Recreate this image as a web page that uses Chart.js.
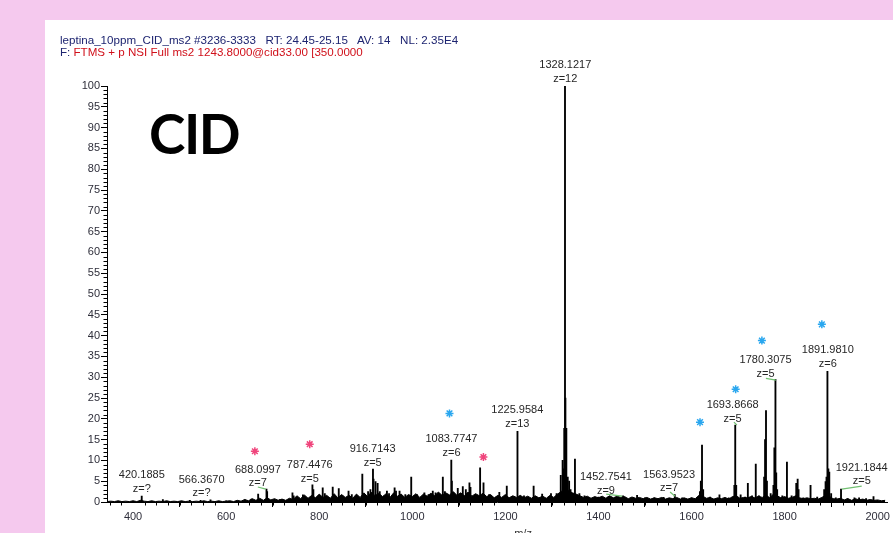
<!DOCTYPE html>
<html>
<head>
<meta charset="utf-8">
<script src="https://cdn.jsdelivr.net/npm/chart.js@4/dist/chart.umd.min.js"></script>
<style>
  html, body { margin: 0; padding: 0; }
  body { width: 893px; height: 533px; overflow: hidden; background: #f5c9ee; position: relative; }
  #panel { position: absolute; left: 45px; top: 20px; width: 848px; height: 513px; background: #fff; }
  #box { position: absolute; left: 45px; top: 20px; width: 848px; height: 513px; }
  .hdr { position: absolute; left: 60px; font: 11.6px "Liberation Sans", Arial, sans-serif; white-space: pre; line-height: 13px; }
  #h1 { top: 33px; color: #1d2470; }
  #h2 { top: 45px; color: #1d2470; }
  #h2 span { color: #d0101a; }
  #cid { position: absolute; left: 149px; top: 106px; font: bold 55px Lato, sans-serif; line-height: 55px; letter-spacing: -1.5px; color: #000; }
</style>
</head>
<body>
<div id="panel"></div>
<div id="box"><canvas id="myChart"></canvas></div>
<div class="hdr" id="h1">leptina_10ppm_CID_ms2 #3236-3333   RT: 24.45-25.15   AV: 14   NL: 2.35E4</div>
<div class="hdr" id="h2">F: <span>FTMS + p NSI Full ms2 1243.8000@cid33.00 [350.0000</span></div>
<div id="cid">CID</div>
<script>
// main sticks (m/z, relative abundance)
var peakMz = [418.6, 464, 522, 545, 566.4, 600, 640, 654.5, 668.8, 686.7, 688.1, 715, 720, 742.5, 745, 765, 770,
  785.4, 787.4, 807.5, 812, 829, 842, 850, 863, 870, 892.6, 905, 910, 915.5, 916.7, 921, 925.5, 930, 945.5, 950,
  962, 965, 972.6, 985, 997.7, 1010, 1026, 1035, 1044, 1050, 1065.6, 1070, 1083.8, 1085, 1097.7, 1108.5, 1115,
  1122.8, 1125, 1145.7, 1153, 1165, 1187, 1203, 1226, 1240, 1260.7, 1279, 1298, 1310, 1319, 1323, 1325, 1326.5,
  1328.1, 1329, 1331, 1334, 1337, 1340, 1349.5, 1359, 1370, 1400, 1420, 1452.8, 1483, 1500, 1520, 1540, 1564,
  1580, 1600, 1618, 1620, 1622.5, 1625, 1640, 1660, 1680, 1692, 1693.9, 1696, 1705.5, 1715, 1721, 1730, 1738,
  1745, 1756, 1758, 1760, 1762, 1770, 1776, 1778, 1780.3, 1782, 1784, 1795, 1805, 1815, 1825, 1828, 1830, 1840,
  1855.7, 1870, 1885, 1888, 1890, 1892, 1894, 1896, 1900, 1910, 1921.2, 1935, 1950, 1960, 1975, 1991];
var peakInt = [1.4, 0.6, 0.4, 0.4, 0.5, 0.3, 0.5, 0.7, 1.9, 3.1, 2.5, 0.6, 0.6, 2.2, 1.5, 1.7, 1.2,
  4.1, 3.0, 3.4, 2.0, 3.6, 3.2, 1.5, 2.6, 1.8, 6.7, 2.5, 3.0, 7.9, 5.5, 4.9, 4.5, 2.5, 2.6, 2.0,
  3.4, 2.6, 2.6, 1.8, 6.0, 1.8, 2.2, 1.8, 2.6, 2.2, 6.0, 2.5, 10.1, 5.0, 3.3, 3.7, 3.0,
  4.6, 3.5, 8.2, 4.6, 1.8, 2.3, 3.8, 17.0, 1.5, 3.8, 1.9, 2.0, 2.0, 6.4, 10.0, 8.0, 17.7,
  100, 25, 17.7, 6.0, 5.0, 3.0, 10.3, 2.0, 1.5, 1.2, 1.2, 1.5, 1.6, 1.0, 1.0, 1.1, 1.8,
  1.0, 1.0, 2.5, 5.0, 13.7, 3.0, 1.2, 1.7, 1.0, 4.0, 18.5, 4.0, 1.7, 1.2, 4.5, 1.5, 9.1,
  1.5, 6.0, 15.0, 22.0, 5.0, 2.0, 4.0, 13.0, 29.5, 7.0, 3.0, 1.5, 9.6, 1.5, 4.5, 5.5, 3.0, 1.0,
  4.0, 1.2, 3.0, 4.9, 6.0, 31.4, 8.0, 7.2, 2.0, 1.0, 3.1, 0.8, 1.0, 1.0, 0.8, 1.3];

// baseline noise
var noiseMz = [344, 352, 360, 368, 376, 384, 392, 400, 408, 416, 424, 432, 440, 448, 456, 464, 472, 480, 488, 496,
  504, 512, 520, 528, 536, 544, 552, 560, 568, 576, 584, 592, 600, 608, 616, 624, 632, 640, 648, 656, 664, 672,
  680, 688, 696, 704, 712, 720, 728, 736, 744, 752, 760, 768, 776, 784, 792, 800, 808, 816, 824, 832, 840, 848,
  856, 864, 872, 880, 888, 896, 904, 912, 920, 928, 936, 944, 952, 960, 968, 976, 984, 992, 1000, 1008, 1016,
  1024, 1032, 1040, 1048, 1056, 1064, 1072, 1080, 1088, 1096, 1104, 1112, 1120, 1128, 1136, 1144, 1152, 1160,
  1168, 1176, 1184, 1192, 1200, 1208, 1216, 1224, 1232, 1240, 1248, 1256, 1264, 1272, 1280, 1288, 1296, 1304,
  1312, 1320, 1328, 1336, 1344, 1352, 1360, 1368, 1376, 1384, 1392, 1400, 1408, 1416, 1424, 1432, 1440, 1448,
  1456, 1464, 1472, 1480, 1488, 1496, 1504, 1512, 1520, 1528, 1536, 1544, 1552, 1560, 1568, 1576, 1584, 1592,
  1600, 1608, 1616, 1624, 1632, 1640, 1648, 1656, 1664, 1672, 1680, 1688, 1696, 1704, 1712, 1720, 1728, 1736,
  1744, 1752, 1760, 1768, 1776, 1784, 1792, 1800, 1808, 1816, 1824, 1832, 1840, 1848, 1856, 1864, 1872, 1880,
  1888, 1896, 1904, 1912, 1920, 1928, 1936, 1944, 1952, 1960, 1968, 1976, 1984, 1992, 2000, 2008, 2016];
var noiseInt = [0.1, 0.2, 0.1, 0.3, 0.1, 0.2, 0.1, 0.3, 0.1, 0.4, 0.2, 0.1, 0.3, 0.1, 0.2, 0.1, 0.3, 0.1, 0.2, 0.1,
  0.3, 0.1, 0.2, 0.1, 0.2, 0.1, 0.3, 0.1, 0.2, 0.1, 0.3, 0.1, 0.2, 0.3, 0.1, 0.4, 0.2, 0.6, 0.3, 0.8, 0.4, 0.9,
  0.4, 1.0, 0.5, 0.8, 0.4, 0.7, 0.4, 0.9, 0.6, 1.5, 0.8, 1.7, 0.9, 1.6, 1.0, 1.9, 1.1, 1.6, 0.9, 2.0, 1.0, 1.8,
  1.1, 1.6, 0.9, 1.9, 1.1, 2.2, 1.3, 2.4, 1.5, 2.1, 1.3, 2.0, 1.1, 2.2, 1.4, 1.9, 1.1, 1.8, 1.3, 2.0, 1.1,
  1.9, 1.4, 2.1, 1.5, 2.4, 1.6, 2.2, 1.7, 2.5, 1.6, 2.2, 1.5, 2.4, 1.4, 2.0, 1.5, 2.1, 1.3,
  1.8, 1.0, 1.6, 1.1, 1.8, 1.0, 1.5, 1.1, 1.6, 1.0, 1.4, 0.9, 1.5, 1.0, 1.4, 0.9, 1.6, 1.1,
  1.9, 2.5, 3.4, 2.7, 2.2, 1.9, 1.5, 1.1, 1.4, 0.9, 1.3, 1.0, 1.4, 0.9, 1.5, 1.0, 1.4, 1.1,
  1.3, 0.8, 1.2, 0.9, 1.1, 0.8, 1.1, 0.7, 1.0, 0.8, 1.1, 0.7, 1.0, 0.8, 1.1, 0.7, 1.0, 0.7,
  1.0, 0.8, 1.6, 1.4, 0.9, 1.1, 0.7, 1.0, 0.8, 1.1, 0.7, 1.3, 1.5, 0.9, 1.1, 1.0, 1.3, 1.0,
  1.4, 1.1, 1.7, 1.0, 1.9, 1.5, 1.0, 1.3, 0.9, 1.1, 1.5, 1.0, 0.8, 1.0, 0.8, 0.9, 0.7, 1.1,
  1.6, 1.4, 0.8, 0.7, 0.9, 0.5, 0.8, 0.4, 0.8, 0.5, 0.7, 0.4, 0.6, 0.4, 0.5, 0.3, 0.4];

// annotated ions: text, and where the label sits (m/z, abundance)
var labelMass = ["420.1885", "566.3670", "688.0997", "787.4476", "916.7143", "1083.7747", "1225.9584",
  "1328.1217", "1452.7541", "1563.9523", "1693.8668", "1780.3075", "1891.9810", "1921.1844"];
var labelCharge = ["z=?", "z=?", "z=7", "z=5", "z=5", "z=6", "z=13", "z=12", "z=9", "z=7", "z=5", "z=5", "z=6", "z=5"];
var labelAtMz = [418.8, 547.3, 668.1, 779.6, 914.8, 1084.2, 1225.7, 1328.7, 1416, 1551.7, 1688.3, 1759.1, 1892.8, 1965.7];
var labelAtInt = [6.4, 5.3, 7.8, 8.9, 12.7, 15.1, 22.1, 105.0, 6.0, 6.5, 23.3, 34.1, 36.5, 8.2];

// green leader lines [mz1, int1, mz2, int2]
var leaders = [[668.1, 3.6, 685.3, 3.1], [1416.6, 1.9, 1451, 1.4], [1553.9, 2.4, 1564.6, 1.4],
  [1691.1, 19.2, 1697.5, 18.5], [1759.8, 29.7, 1781.3, 29.3], [1922.8, 3.1, 1965.7, 3.8]];

// asterisks
var starMz = [1321.6, 661.7, 779.6, 1079.9, 1152.8, 1618.2, 1694.8, 1751.2, 1880];
var starInt = [110.1, 12.2, 13.9, 21.3, 10.8, 19.2, 27.1, 38.8, 42.7];
var starColor = ["#2aa7ef", "#f0457c", "#f0457c", "#2aa7ef", "#f0457c", "#2aa7ef", "#2aa7ef", "#2aa7ef", "#2aa7ef"];

var xTicks = [400, 600, 800, 1000, 1200, 1400, 1600, 1800, 2000];
var yTicks = [0, 5, 10, 15, 20, 25, 30, 35, 40, 45, 50, 55, 60, 65, 70, 75, 80, 85, 90, 95, 100];

var tickFont = { family: "Liberation Sans", size: 11 };

var spectrumExtras = {
  id: 'spectrumExtras',
  afterDraw: function(chart) {
    var ctx = chart.ctx;
    var xs = chart.scales.x, ys = chart.scales.y;
    var area = chart.chartArea;
    ctx.save();
    // minor ticks
    ctx.strokeStyle = '#000';
    ctx.lineWidth = 1;
    ctx.beginPath();
    for (var v = 1; v < 100; v++) {
      if (v % 5 === 0) continue;
      var py = Math.round(ys.getPixelForValue(v)) + 0.5;
      ctx.moveTo(area.left - 3.5, py);
      ctx.lineTo(area.left, py);
    }
    for (var m = 350; m <= 2000; m += 25) {
      if (m % 200 === 0) continue;
      var px = Math.round(xs.getPixelForValue(m)) + 0.5;
      ctx.moveTo(px, area.bottom);
      ctx.lineTo(px, area.bottom + 3.5);
    }
    ctx.stroke();
    // leader lines
    ctx.strokeStyle = '#72c072';
    ctx.lineWidth = 1.2;
    leaders.forEach(function(l) {
      ctx.beginPath();
      ctx.moveTo(xs.getPixelForValue(l[0]), ys.getPixelForValue(l[1]));
      ctx.lineTo(xs.getPixelForValue(l[2]), ys.getPixelForValue(l[3]));
      ctx.stroke();
    });
    // peak labels
    ctx.font = '11px "Liberation Sans", Arial, sans-serif';
    ctx.fillStyle = '#262626';
    ctx.textAlign = 'center';
    ctx.textBaseline = 'middle';
    labelMass.forEach(function(t, i) {
      var lx = xs.getPixelForValue(labelAtMz[i]);
      var ly = ys.getPixelForValue(labelAtInt[i]);
      ctx.fillText(t, lx, ly);
      ctx.fillText(labelCharge[i], lx, ly + 13.5);
    });
    // axis title, mostly cut off by the bottom edge
    ctx.fillStyle = '#333';
    ctx.textBaseline = 'top';
    ctx.fillText('m/z', xs.getPixelForValue(1238), area.bottom + 26);
    ctx.restore();
  }
};

var ctx = document.getElementById("myChart").getContext('2d');
var myChart = new Chart(ctx, {
  type: 'bar',
  data: {
    datasets: [
      {
        type: 'scatter',
        data: starMz.map(function(m, i) { return { x: m, y: starInt[i] }; }),
        pointStyle: 'star',
        pointRadius: 4,
        borderWidth: 1.5,
        borderColor: starColor,
        backgroundColor: starColor,
        clip: false,
        order: 0
      },
      {
        type: 'bar',
        data: peakMz.map(function(m, i) { return { x: m, y: peakInt[i] }; }),
        backgroundColor: '#000',
        barThickness: 1.2,
        grouped: false,
        order: 1
      },
      {
        type: 'line',
        data: noiseMz.map(function(m, i) { return { x: m, y: noiseInt[i] }; }),
        borderColor: '#000',
        backgroundColor: '#000',
        borderWidth: 1,
        fill: 'origin',
        pointRadius: 0,
        tension: 0,
        order: 2
      }
    ]
  },
  options: {
    responsive: true,
    maintainAspectRatio: false,
    animation: false,
    layout: { padding: { top: 66, right: 4, left: 0, bottom: 0 } },
    plugins: { legend: { display: false }, tooltip: { enabled: false } },
    scales: {
      x: {
        type: 'linear',
        min: 344,
        max: 2021,
        offset: false,
        afterFit: function(s) { s.height = 31; },
        afterBuildTicks: function(s) { s.ticks = xTicks.map(function(v) { return { value: v }; }); },
        grid: { drawOnChartArea: false, color: '#000', tickLength: 5 },
        border: { color: '#000', width: 1 },
        ticks: { font: tickFont, color: '#2e2e3a', padding: 3, maxRotation: 0,
          callback: function(v) { return String(v); } }
      },
      y: {
        min: 0,
        max: 100,
        afterFit: function(s) { s.width = 62; },
        afterBuildTicks: function(s) { s.ticks = yTicks.map(function(v) { return { value: v }; }); },
        grid: { drawOnChartArea: false, color: '#000', tickLength: 6 },
        border: { color: '#000', width: 1 },
        ticks: { font: tickFont, color: '#2e2e3a', padding: 1 }
      }
    }
  },
  plugins: [spectrumExtras]
});
</script>
</body>
</html>
